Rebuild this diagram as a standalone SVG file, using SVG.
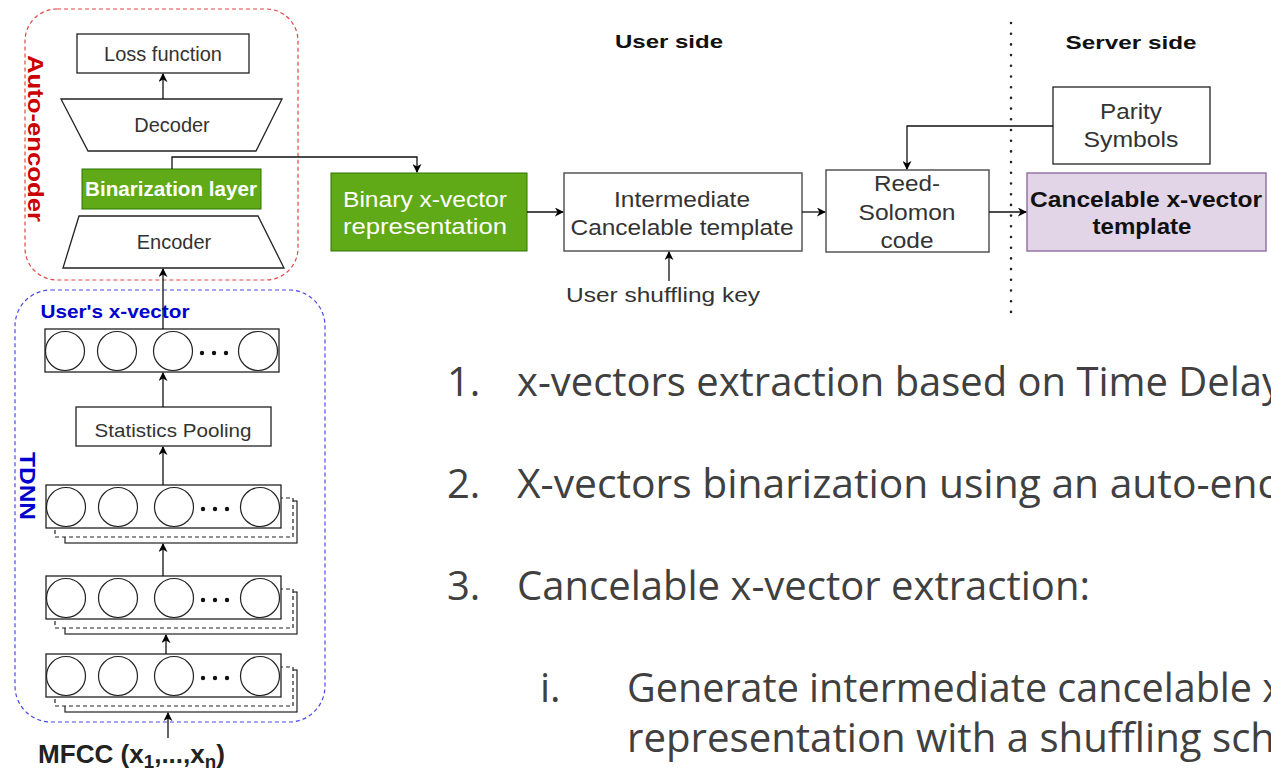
<svg xmlns="http://www.w3.org/2000/svg" width="1271" height="772" viewBox="0 0 1271 772">
<defs>
<marker id="arr" viewBox="0 0 10 10" refX="9" refY="5" markerWidth="9" markerHeight="9" markerUnits="userSpaceOnUse" orient="auto">
<path d="M0,0 L10,5 L0,10 L3,5 z" fill="#000"/>
</marker>
<style>
.box{fill:#fff;stroke:#222;stroke-width:1.3}
.gbox{fill:#fff;stroke:#555;stroke-width:1.5}
.t{font-family:"Liberation Sans",Arial,sans-serif;fill:#333;text-anchor:middle}
.tb{font-family:"Liberation Sans",Arial,sans-serif;font-weight:bold;text-anchor:middle}
.c{fill:#fff;stroke:#222;stroke-width:1.2}
.dot{fill:#111}
.sol{fill:#fff;stroke:#222;stroke-width:1.2}
.dsh{fill:#fff;stroke:#222;stroke-width:1.2;stroke-dasharray:4 3}
.line{fill:none;stroke:#111;stroke-width:1.3}
.list{font-family:"Open Sans","Noto Sans",sans-serif;fill:#404040;font-size:40px}
</style>
</defs>

<g id="autoencoder-group">
<rect x="25" y="9" width="273" height="271" rx="32" fill="none" stroke="#e64545" stroke-width="1.2" stroke-dasharray="4 3"/>
<text class="tb" x="35" y="138.5" font-size="22" fill="#cc0000" transform="rotate(90 35 138.5)" dominant-baseline="central" textLength="167" lengthAdjust="spacingAndGlyphs">Auto-encoder</text>
</g>

<g id="tdnn-group">
<rect x="15" y="290" width="310" height="432" rx="36" fill="none" stroke="#4a4ae6" stroke-width="1.2" stroke-dasharray="4 3"/>
<text class="tb" x="27" y="486" font-size="22" fill="#0000cc" transform="rotate(90 27 486)" dominant-baseline="central" textLength="68" lengthAdjust="spacingAndGlyphs">TDNN</text>
<text class="tb" x="115" y="318" font-size="19" fill="#0000cc" textLength="149" lengthAdjust="spacingAndGlyphs">User's x-vector</text>
</g>

<g id="loss">
<rect class="box" x="77" y="34" width="172" height="39"/>
<text class="t" x="163" y="61" font-size="20">Loss function</text>
</g>

<g id="decoder">
<path class="box" d="M61,99 L282,99 L256,151 L88,151 Z"/>
<text class="t" x="172" y="132" font-size="20">Decoder</text>
</g>

<g id="binarization">
<rect x="82" y="169" width="179" height="40" fill="#60a917" stroke="#2d7600" stroke-width="1"/>
<text class="tb" x="171" y="196" font-size="20" fill="#fff" textLength="172" lengthAdjust="spacingAndGlyphs">Binarization layer</text>
</g>

<g id="encoder">
<path class="box" d="M79,216 L258,216 L284,268 L63,268 Z"/>
<text class="t" x="174" y="249" font-size="20">Encoder</text>
</g>

<g id="xvector">
<rect class="box" x="45" y="329" width="234" height="43"/>
<circle class="c" cx="65" cy="351" r="19.5"/>
<circle class="c" cx="117" cy="351" r="19.5"/>
<circle class="c" cx="173" cy="351" r="19.5"/>
<circle class="c" cx="258" cy="351" r="19.5"/>
<circle class="dot" cx="202" cy="353" r="2.2"/>
<circle class="dot" cx="214" cy="353" r="2.2"/>
<circle class="dot" cx="226" cy="353" r="2.2"/>
</g>

<g id="stats">
<rect class="box" x="76" y="407" width="195" height="39"/>
<text class="t" x="173" y="437" font-size="19" textLength="157" lengthAdjust="spacingAndGlyphs">Statistics Pooling</text>
</g>

<g id="tdnn1">
<rect class="sol" x="65" y="501" width="232" height="42"/>
<rect class="dsh" x="55" y="498" width="238" height="39"/>
<rect class="box" x="46" y="485" width="235" height="43"/>
<circle class="c" cx="66" cy="507" r="19.5"/>
<circle class="c" cx="118" cy="507" r="19.5"/>
<circle class="c" cx="174" cy="507" r="19.5"/>
<circle class="c" cx="260" cy="507" r="19.5"/>
<circle class="dot" cx="203" cy="509" r="2.2"/>
<circle class="dot" cx="215" cy="509" r="2.2"/>
<circle class="dot" cx="227" cy="509" r="2.2"/>
</g>

<g id="tdnn2">
<rect class="sol" x="65" y="592" width="232" height="42"/>
<rect class="dsh" x="55" y="589" width="238" height="39"/>
<rect class="box" x="46" y="576" width="235" height="43"/>
<circle class="c" cx="66" cy="598" r="19.5"/>
<circle class="c" cx="118" cy="598" r="19.5"/>
<circle class="c" cx="174" cy="598" r="19.5"/>
<circle class="c" cx="260" cy="598" r="19.5"/>
<circle class="dot" cx="203" cy="600" r="2.2"/>
<circle class="dot" cx="215" cy="600" r="2.2"/>
<circle class="dot" cx="227" cy="600" r="2.2"/>
</g>

<g id="tdnn3">
<rect class="sol" x="65" y="670" width="232" height="42"/>
<rect class="dsh" x="55" y="667" width="238" height="39"/>
<rect class="box" x="46" y="654" width="235" height="43"/>
<circle class="c" cx="66" cy="676" r="19.5"/>
<circle class="c" cx="118" cy="676" r="19.5"/>
<circle class="c" cx="174" cy="676" r="19.5"/>
<circle class="c" cx="260" cy="676" r="19.5"/>
<circle class="dot" cx="203" cy="678" r="2.2"/>
<circle class="dot" cx="215" cy="678" r="2.2"/>
<circle class="dot" cx="227" cy="678" r="2.2"/>
</g>

<g id="mfcc">
<text class="tb" x="38" y="763" font-size="25" fill="#222" style="text-anchor:start" textLength="187" lengthAdjust="spacingAndGlyphs">MFCC (x<tspan font-size="18" dy="5">1</tspan><tspan dy="-5">,...,x</tspan><tspan font-size="18" dy="5">n</tspan><tspan dy="-5">)</tspan></text>
</g>

<g id="headers">
<text class="tb" x="669" y="48" font-size="19" fill="#111" textLength="108" lengthAdjust="spacingAndGlyphs">User side</text>
<text class="tb" x="1131" y="49" font-size="19" fill="#111" textLength="131" lengthAdjust="spacingAndGlyphs">Server side</text>
<line x1="1011" y1="23" x2="1011" y2="316" stroke="#222" stroke-width="2.6" stroke-linecap="round" stroke-dasharray="0 10.7"/>
</g>

<g id="binary">
<rect x="331" y="173" width="196" height="78" fill="#60a917" stroke="#2d7600" stroke-width="1"/>
<text class="t" x="425" y="207" font-size="22" style="fill:#fff" textLength="164" lengthAdjust="spacingAndGlyphs">Binary x-vector</text>
<text class="t" x="425" y="234" font-size="22" style="fill:#fff" textLength="164" lengthAdjust="spacingAndGlyphs">representation</text>
</g>

<g id="intermediate">
<rect class="gbox" x="564" y="173" width="238" height="78"/>
<text class="t" x="682" y="207" font-size="22" textLength="136" lengthAdjust="spacingAndGlyphs">Intermediate</text>
<text class="t" x="682" y="235" font-size="22" textLength="223" lengthAdjust="spacingAndGlyphs">Cancelable template</text>
</g>

<g id="shuffling-key">
<text class="t" x="663" y="302" font-size="21" textLength="194" lengthAdjust="spacingAndGlyphs">User shuffling key</text>
</g>

<g id="reed-solomon">
<rect class="gbox" x="826" y="170" width="163" height="82"/>
<text class="t" x="907" y="191" font-size="22" textLength="66" lengthAdjust="spacingAndGlyphs">Reed-</text>
<text class="t" x="907" y="220" font-size="22" textLength="97" lengthAdjust="spacingAndGlyphs">Solomon</text>
<text class="t" x="907" y="248" font-size="22" textLength="53" lengthAdjust="spacingAndGlyphs">code</text>
</g>

<g id="parity">
<rect class="box" x="1053" y="87" width="157" height="77"/>
<text class="t" x="1131" y="119" font-size="22" textLength="62" lengthAdjust="spacingAndGlyphs">Parity</text>
<text class="t" x="1131" y="147" font-size="22" textLength="95" lengthAdjust="spacingAndGlyphs">Symbols</text>
</g>

<g id="cancelable">
<rect x="1027" y="173" width="239" height="78" fill="#e1d5e7" stroke="#9673a6" stroke-width="1.5"/>
<text class="tb" x="1146" y="207" font-size="22" fill="#111" textLength="232" lengthAdjust="spacingAndGlyphs">Cancelable x-vector</text>
<text class="tb" x="1142" y="234" font-size="22" fill="#111" textLength="99" lengthAdjust="spacingAndGlyphs">template</text>
</g>

<g id="connectors">
<line class="line" x1="163" y1="99" x2="163" y2="74" marker-end="url(#arr)"/>
<path class="line" d="M172,169 V157 H417 V172" marker-end="url(#arr)"/>
<line class="line" x1="163" y1="329" x2="163" y2="269" marker-end="url(#arr)"/>
<line class="line" x1="163" y1="407" x2="163" y2="373" marker-end="url(#arr)"/>
<line class="line" x1="163" y1="485" x2="163" y2="447" marker-end="url(#arr)"/>
<line class="line" x1="163" y1="576" x2="163" y2="544" marker-end="url(#arr)"/>
<line class="line" x1="166" y1="654" x2="166" y2="635" marker-end="url(#arr)"/>
<line class="line" x1="168" y1="738" x2="168" y2="713" marker-end="url(#arr)"/>
<line class="line" x1="527" y1="212" x2="563" y2="212" marker-end="url(#arr)"/>
<line class="line" x1="669" y1="281" x2="669" y2="252" marker-end="url(#arr)"/>
<line class="line" x1="802" y1="212" x2="825" y2="212" marker-end="url(#arr)"/>
<path class="line" d="M1053,126 H907 V169" marker-end="url(#arr)"/>
<line class="line" x1="989" y1="212" x2="1026" y2="212" marker-end="url(#arr)"/>
</g>

<g id="list">
<text class="list" x="447" y="396">1.</text>
<text class="list" x="517" y="396" textLength="765" lengthAdjust="spacingAndGlyphs">x-vectors extraction based on Time Delay</text>
<text class="list" x="447" y="498">2.</text>
<text class="list" x="517" y="498" textLength="760" lengthAdjust="spacingAndGlyphs">X-vectors binarization using an auto-enc</text>
<text class="list" x="447" y="600">3.</text>
<text class="list" x="517" y="600" textLength="573" lengthAdjust="spacingAndGlyphs">Cancelable x-vector extraction:</text>
<text class="list" x="540" y="702">i.</text>
<text class="list" x="627" y="702" textLength="656" lengthAdjust="spacingAndGlyphs">Generate intermediate cancelable x</text>
<text class="list" x="627" y="752" textLength="648" lengthAdjust="spacingAndGlyphs">representation with a shuffling sch</text>
</g>
</svg>
